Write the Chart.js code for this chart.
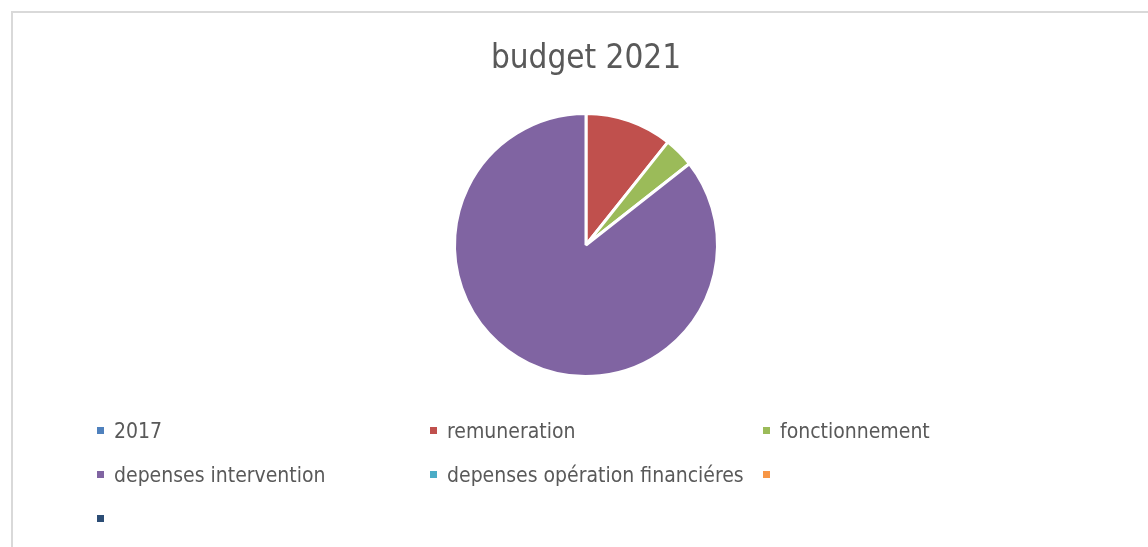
<!DOCTYPE html>
<html>
<head>
<meta charset="utf-8">
<script src="https://cdn.jsdelivr.net/npm/chart.js@4/dist/chart.umd.min.js"></script>
<style>
  html, body { margin: 0; padding: 0; background: #fff; }
  body { width: 1148px; height: 547px; position: relative; overflow: hidden;
         font-family: "Liberation Sans Narrow", "DejaVu Sans Condensed", sans-serif; color: #595959; }
  #frame { position: absolute; left: 11px; top: 11px; width: 1200px; height: 600px;
           border-left: 2px solid #d9d9d9; border-top: 2px solid #d9d9d9; }
  #chartBox { position: absolute; left: 0; top: 0; width: 1148px; height: 547px; }
  #title { position: absolute; left: 0; width: 1172px; top: 37px; text-align: center; font-size: 33px; }
  .item { position: absolute; font-size: 21px; white-space: nowrap; line-height: 22px; }
  .item i { display: inline-block; width: 7px; height: 7px; margin-right: 10px; vertical-align: 4px; }
</style>
</head>
<body>
<div id="frame"></div>
<div id="chartBox"><canvas id="pie"></canvas></div>
<div id="title"></div>
<div id="legend"></div>
<script>
const chartTitle = "budget 2021";
const labels = ["2017", "remuneration", "fonctionnement", "depenses intervention", "depenses opération financiéres", "", ""];
const values = [0, 10.7, 3.7, 85.6, 0, 0, 0];
const colors = ["#4f81bd", "#c0504d", "#9bbb59", "#8064a2", "#4bacc6", "#f79646", "#2c4d75"];

document.getElementById("title").innerText = chartTitle;

const ctx = document.getElementById("pie").getContext("2d");
const chart = new Chart(ctx, {
    type: 'pie',
    data: {
        labels: labels,
        datasets: [{
            data: values,
            backgroundColor: colors,
            borderColor: '#ffffff',
            borderWidth: 3
        }]
    },
    options: {
        responsive: true,
        maintainAspectRatio: false,
        animation: false,
        layout: { padding: { left: 24, right: 0, top: 112, bottom: 169 } },
        plugins: {
            legend: { display: false },
            tooltip: { enabled: false }
        }
    }
});

// legend laid out in three columns below the pie
const legendEl = document.getElementById("legend");
const colX = [97, 430, 763];
const rowY = [420, 464, 508];
labels.forEach((lab, i) => {
    const d = document.createElement("div");
    d.className = "item";
    d.style.left = colX[i % 3] + "px";
    d.style.top = rowY[Math.floor(i / 3)] + "px";
    d.innerHTML = '<i style="background:' + colors[i] + '"></i>' + lab;
    legendEl.appendChild(d);
});
</script>
</body>
</html>
